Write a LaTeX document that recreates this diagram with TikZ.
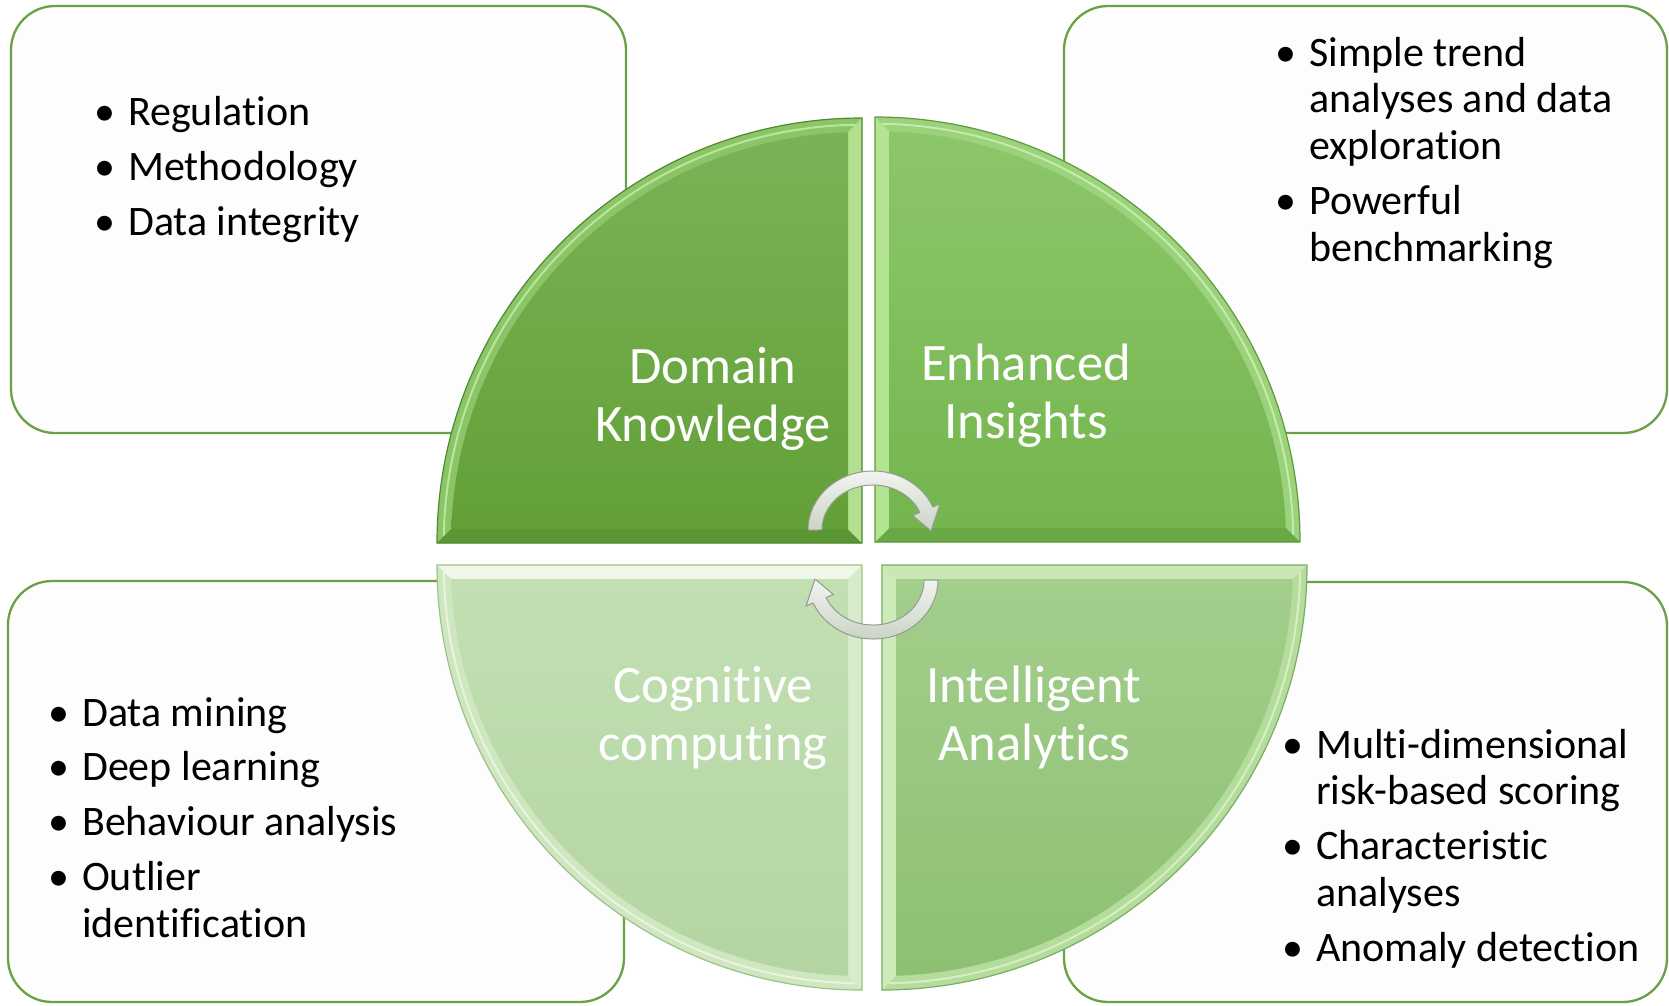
\documentclass[tikz,border=0pt]{standalone}
\usepackage{fontspec}
\setmainfont{Carlito}[RawFeature={-liga;-clig;-dlig;-calt}]

% panel colours
\definecolor{boxfill}{HTML}{FDFDFD}
\definecolor{boxline}{HTML}{6AA146}
% top-left quarter
\definecolor{TLarc}{HTML}{8CC567}
\definecolor{TLhs}{HTML}{5A9632}
\definecolor{TLvs}{HTML}{B3E08E}
\definecolor{TLtop}{HTML}{7AB356}
\definecolor{TLbot}{HTML}{62A037}
\definecolor{TLline}{HTML}{4E8A2E}
\definecolor{TLglow}{HTML}{B8E69A}
% top-right quarter
\definecolor{TRarc}{HTML}{9DD27C}
\definecolor{TRhs}{HTML}{6AA845}
\definecolor{TRvs}{HTML}{B3E492}
\definecolor{TRtop}{HTML}{8CC76B}
\definecolor{TRbot}{HTML}{74B54E}
\definecolor{TRline}{HTML}{5E9A3C}
\definecolor{TRglow}{HTML}{C2EDA6}
% bottom-left quarter
\definecolor{BLarc}{HTML}{CFE7C1}
\definecolor{BLhs}{HTML}{EEF7E8}
\definecolor{BLvs}{HTML}{D6ECCA}
\definecolor{BLtop}{HTML}{C2DFB2}
\definecolor{BLbot}{HTML}{B4D5A2}
\definecolor{BLline}{HTML}{9CC28A}
\definecolor{BLglow}{HTML}{E6F5DC}
% bottom-right quarter
\definecolor{BRarc}{HTML}{B5DC9C}
\definecolor{BRhs}{HTML}{C9E7B5}
\definecolor{BRvs}{HTML}{CDEBB8}
\definecolor{BRtop}{HTML}{A3CE8C}
\definecolor{BRbot}{HTML}{8DC072}
\definecolor{BRline}{HTML}{7AAE62}
\definecolor{BRglow}{HTML}{D4F0C0}
% cycle arrows
\definecolor{arrtop}{HTML}{F1F4EF}
\definecolor{arrbot}{HTML}{CBD4C6}
\definecolor{arrline}{HTML}{949C8F}

% bevelled quarter disc: corner (#1,#2), mirrored by #3/#4, colour prefix #5
\newcommand\qpiece[5]{%
  \begin{scope}[shift={(#1,#2)}, xscale=#3, yscale=#4]
    \fill[#5arc] (0,0) -- (-425,0) arc[start angle=180,end angle=270,radius=425] -- cycle;
    \draw[#5glow, line width=2pt] (-418.2,-7) arc[start angle=180.96,end angle=269.04,radius=418.3];
    \fill[#5hs] (0,0) -- (-425,0) -- (-410.76,-14) -- (-14,-14) -- cycle;
    \fill[#5vs] (0,0) -- (0,-425) -- (-14,-410.76) -- (-14,-14) -- cycle;
    \shade[top color=#5top, bottom color=#5bot]
      (-14,-14) -- (-410.76,-14) arc[start angle=181.952,end angle=268.048,radius=411] -- cycle;
    \draw[#5line, line width=1.2pt] (0,0) -- (-425,0) arc[start angle=180,end angle=270,radius=425] -- cycle;
  \end{scope}}

% curved cycle arrow over the top, head on the right
\newcommand\cyclearrow{%
  \shade[top color=arrtop, bottom color=arrbot, draw=arrline, line width=1pt, line join=round]
    (808,530) arc[start angle=180,end angle=337,x radius=65,y radius=59]
    -- (940,504) -- (931,531) -- (912.6,515.5) -- (919.9,512.4)
    arc[start angle=337,end angle=180,x radius=51,y radius=45] -- cycle;}

% bullet list helpers
\newcommand\bitem[1]{\hbox{\hbox to 34pt{\textbullet\hfil}#1}}
\newcommand\bcont[1]{\hbox{\hskip34pt #1}}
\newcommand\bgap{\vskip 8pt}
\newcommand\twolines[2]{\vtop{\baselineskip=58pt\halign{\hfil##\hfil\cr #1\cr #2\cr}}}

\begin{document}
\begin{tikzpicture}[x=1pt,y=-1pt,
  infobox/.style={draw=boxline, line width=2.3pt, fill=boxfill, rounded corners=44pt},
  qlabel/.style={text=white, font=\fontsize{52.6}{58}\selectfont, inner sep=0pt, anchor=base},
  blist/.style={text=black, font=\fontsize{42}{46.8}\selectfont, inner sep=0pt, anchor=base west},
]
\path[use as bounding box] (0,0) rectangle (1669,1005);
\fill[white] (0,0) rectangle (1669,1005);

% surrounding text panels
\draw[infobox] (11,6) rectangle (626,433);
\draw[infobox] (1064,6) rectangle (1667,433);
\draw[infobox] (8,581) rectangle (624,1002);
\draw[infobox] (1064,582) rectangle (1667,1002);

% four quarters of the disc
\qpiece{862}{543}{1}{1}{TL}
\qpiece{875}{542}{-1}{1}{TR}
\qpiece{862}{565}{1}{-1}{BL}
\qpiece{882}{565}{-1}{-1}{BR}

% quarter labels
\node[qlabel] (dk) at (713,383) {\twolines{Domain}{Knowledge}};
\node[qlabel] (ei) at (1026,380) {\twolines{Enhanced}{Insights}};
\node[qlabel] (cc) at (713,702) {\twolines{Cognitive}{computing}};
\node[qlabel] (ia) at (1034,702) {\twolines{Intelligent}{Analytics}};

% panel texts
\node[blist] (tllist) at (94,125.6) {\vtop{%
  \bitem{Regulation}\bgap
  \bitem{Methodology}\bgap
  \bitem{Data integrity}}};
\node[blist] (trlist) at (1275,66) {\vtop{%
  \bitem{Simple trend}
  \bcont{analyses and data}
  \bcont{exploration}\bgap
  \bitem{Powerful}
  \bcont{benchmarking}}};
\node[blist] (bllist) at (48,726) {\vtop{%
  \bitem{Data mining}\bgap
  \bitem{Deep learning}\bgap
  \bitem{Behaviour analysis}\bgap
  \bitem{Outlier}
  \bcont{identification}}};
\node[blist] (brlist) at (1282,758) {\vtop{%
  \bitem{Multi-dimensional}
  \bcont{risk-based scoring}\bgap
  \bitem{Characteristic}
  \bcont{analyses}\bgap
  \bitem{Anomaly detection}}};

% cycle arrows at the centre
\cyclearrow
\begin{scope}[rotate around={180:(873,555)}]
  \cyclearrow
\end{scope}
\end{tikzpicture}
\end{document}
